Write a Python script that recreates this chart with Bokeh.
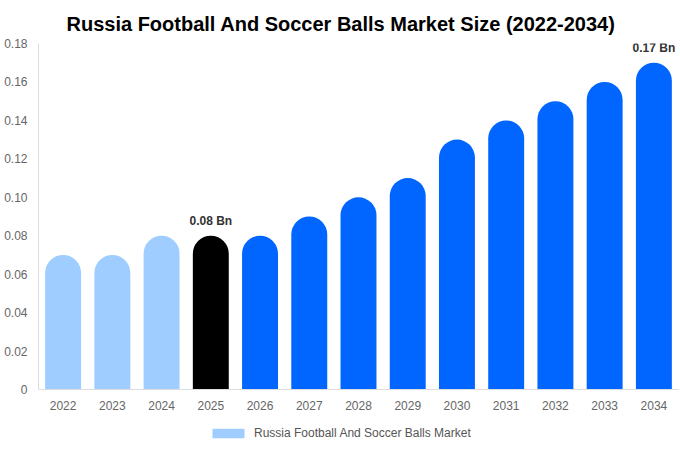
from bokeh.plotting import figure
from bokeh.layouts import column
from bokeh.models import (ColumnDataSource, FixedTicker, CustomJSTickFormatter, Legend,
                          LegendItem, FactorRange, Range1d)
from bokeh.core.properties import value
from bokeh.embed import file_html
from bokeh.resources import INLINE

years = ["2022", "2023", "2024", "2025", "2026", "2027", "2028", "2029", "2030", "2031", "2032", "2033", "2034"]
values = [0.07, 0.07, 0.08, 0.08, 0.08, 0.09, 0.10, 0.11, 0.13, 0.14, 0.15, 0.16, 0.17]
colors = ["#9fcdff", "#9fcdff", "#9fcdff", "#000000", "#0066ff", "#0066ff", "#0066ff",
          "#0066ff", "#0066ff", "#0066ff", "#0066ff", "#0066ff", "#0066ff"]
labels = ["", "", "", "0.08 Bn", "", "", "", "", "", "", "", "", "0.17 Bn"]
y_ticks = [0, 0.02, 0.04, 0.06, 0.08, 0.10, 0.12, 0.14, 0.16, 0.18]
series_name = "Russia Football And Soccer Balls Market"
title_text = "Russia Football And Soccer Balls Market Size (2022-2034)"

FONT = "Liberation Sans"

src = ColumnDataSource(dict(x=years, top=values, color=colors, label=labels))

fig = figure(x_range=years, y_range=(0, 0.18), width=680, height=420,
             output_backend="svg", toolbar_location=None,
             min_border_left=38, min_border_right=2, min_border_top=43, min_border_bottom=31)
fig.title.text = title_text
fig.title.align = "left"
fig.title.offset = 28
fig.title.standoff = 17
fig.title.text_font = FONT
fig.title.text_font_size = "20px"
fig.title.text_font_style = "bold"
fig.title.text_color = "#000000"

fig.outline_line_color = None
fig.xgrid.grid_line_color = None
fig.ygrid.grid_line_color = None
fig.background_fill_color = "white"
fig.border_fill_color = "white"

fig.vbar(x="x", top="top", width=0.73, source=src, fill_color="color",
         line_color=None, border_radius=(18, 18, 0, 0))

fig.text(x="x", y="top", text="label", source=src, text_align="center",
         text_baseline="bottom", y_offset=-8, text_font=value(FONT),
         text_font_size="12px", text_font_style="bold", text_color="#333333")

for ax in (fig.xaxis[0], fig.yaxis[0]):
    ax.axis_line_color = "#dddddd"
    ax.major_tick_line_color = None
    ax.minor_tick_line_color = None
    ax.major_tick_out = 0
    ax.major_tick_in = 0
    ax.minor_tick_out = 0
    ax.minor_tick_in = 0
    ax.major_label_text_font = FONT
    ax.major_label_text_font_size = "12px"
    ax.major_label_text_color = "#666666"

fig.xaxis.major_label_standoff = 11
fig.yaxis.major_label_standoff = 11
fig.yaxis.ticker = FixedTicker(ticks=y_ticks)
fig.yaxis.formatter = CustomJSTickFormatter(code="return tick == 0 ? '0' : tick.toFixed(2);")

# legend strip (bars in this strip fall outside its visible range; only the legend shows)
leg = figure(width=680, height=28, x_range=FactorRange(*years), y_range=Range1d(1, 2),
             x_axis_location=None, y_axis_location=None,
             output_backend="svg", toolbar_location=None,
             min_border_left=0, min_border_right=0, min_border_top=0, min_border_bottom=0)
leg.xgrid.grid_line_color = None
leg.ygrid.grid_line_color = None
leg.outline_line_color = None
leg_r = leg.vbar(x="x", top="top", width=0.73, source=src, fill_color="color", line_color=None)
legend = Legend(items=[LegendItem(label=series_name, renderers=[leg_r], index=0)],
                location=(170, 8), orientation="horizontal",
                label_text_font=FONT, label_text_font_size="12px", label_text_color="#555555",
                glyph_width=40, glyph_height=12, border_line_color=None,
                background_fill_alpha=0, margin=0, padding=0, label_standoff=6)
leg.add_layout(legend)

p = column(fig, leg, spacing=0)

open("out.html", "w").write(file_html(p, INLINE))
